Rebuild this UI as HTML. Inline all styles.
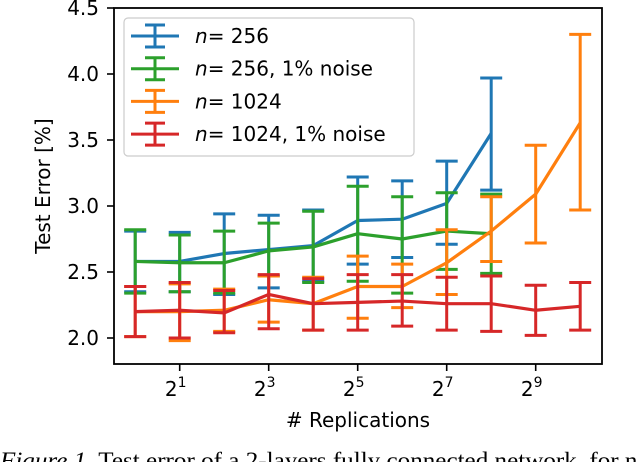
<!DOCTYPE html>
<html><head><meta charset="utf-8"><style>
body{margin:0;background:#fff}
svg{display:block;font-family:"DejaVu Sans","Liberation Sans",sans-serif}
</style></head><body>
<svg id="chart" width="638" height="462" viewBox="0 0 638 462" xmlns="http://www.w3.org/2000/svg">
<g id="marks"></g>
<rect x="114" y="8" width="488" height="356" fill="none" stroke="#000" stroke-width="1.8"/>
<g id="axes"></g>
<text x="358" y="427" font-size="20" text-anchor="middle"># Replications</text>
<text transform="translate(50,186) rotate(-90)" font-size="20" text-anchor="middle">Test Error [%]</text>
<g>
<rect x="124" y="18" width="290" height="138" rx="4" fill="#fff" fill-opacity="0.8" stroke="#ccc" stroke-width="1.2"/>
<g id="legend-items"></g>
</g>
<text x="0" y="468" font-family="Liberation Serif,serif" font-size="23" textLength="650" lengthAdjust="spacingAndGlyphs"><tspan font-style="italic">Figure 1.</tspan> Test error of a 2-layers fully connected network, for no</text>
</svg>
<script>
const xs = [0,1,2,3,4,5,6,7,8,9,10];
const blueMean = [2.58,2.58,2.64,2.67,2.70,2.89,2.90,3.02,3.55];
const blueLo = [2.35,2.35,2.33,2.38,2.43,2.56,2.61,2.71,3.12];
const blueHi = [2.81,2.80,2.94,2.93,2.97,3.22,3.19,3.34,3.97];
const greenMean = [2.58,2.57,2.57,2.66,2.69,2.79,2.75,2.81,2.79];
const greenLo = [2.34,2.35,2.34,2.47,2.42,2.43,2.34,2.52,2.49];
const greenHi = [2.82,2.78,2.81,2.87,2.96,3.15,3.07,3.10,3.09];
const orangeMean = [2.20,2.20,2.21,2.29,2.26,2.39,2.39,2.57,2.81,3.09,3.63];
const orangeLo = [2.01,1.98,2.05,2.12,2.06,2.15,2.23,2.33,2.58,2.72,2.97];
const orangeHi = [2.39,2.41,2.37,2.47,2.46,2.62,2.56,2.82,3.07,3.46,4.30];
const redMean = [2.20,2.21,2.19,2.33,2.26,2.27,2.28,2.26,2.26,2.21,2.24];
const redLo = [2.01,2.00,2.04,2.07,2.06,2.06,2.09,2.06,2.05,2.02,2.06];
const redHi = [2.39,2.42,2.36,2.48,2.45,2.48,2.48,2.46,2.47,2.40,2.42];
const yTicks = [2.0,2.5,3.0,3.5,4.0,4.5];
const xTicks = [1,3,5,7,9];
const seriesNames = ["blue-256","green-256-noise","orange-1024","red-1024-noise"];
const legendLabels = ["256","256, 1% noise","1024","1024, 1% noise"];

const NS="http://www.w3.org/2000/svg";
const X = v => 135.2 + v*44.5;
const Y = v => 338 - (v-2.0)*132;
function mk(tag, attrs, parent){const e=document.createElementNS(NS,tag);for(const k in attrs)e.setAttribute(k,attrs[k]);parent.appendChild(e);return e;}
const marks=document.getElementById('marks');
const series=[
 {c:"#1f77b4",m:blueMean,lo:blueLo,hi:blueHi},
 {c:"#2ca02c",m:greenMean,lo:greenLo,hi:greenHi},
 {c:"#ff7f0e",m:orangeMean,lo:orangeLo,hi:orangeHi},
 {c:"#d62728",m:redMean,lo:redLo,hi:redHi}];
series.forEach((s,i)=>{
 const g=mk('g',{},marks);
 
 
 s.m.forEach((v,j)=>{
  const x=X(xs[j]);
  const eb=mk('g',{stroke:s.c,'stroke-width':3,fill:'none'},g);
  
  
  mk('line',{x1:x,x2:x,y1:Y(s.lo[j]),y2:Y(s.hi[j])},eb);
  mk('line',{x1:x-11,x2:x+11,y1:Y(s.lo[j]),y2:Y(s.lo[j])},eb);
  mk('line',{x1:x-11,x2:x+11,y1:Y(s.hi[j]),y2:Y(s.hi[j])},eb);
 });
 const p=mk('polyline',{points:s.m.map((v,j)=>X(xs[j])+','+Y(v)).join(' '),fill:'none',stroke:s.c,'stroke-width':3.2,'stroke-linejoin':'round'},g);
 
 
});
const axes=document.getElementById('axes');
yTicks.forEach(t=>{
 const y=Y(t);
 mk('line',{x1:107,x2:114,y1:y,y2:y,stroke:'#000','stroke-width':1.6},axes);
 const tx=mk('text',{x:99,y:y+7,'font-size':20,'text-anchor':'end'},axes);
 
 
 tx.textContent=t.toFixed(1);
});
xTicks.forEach(t=>{
 const x=X(t);
 mk('line',{x1:x,x2:x,y1:364,y2:371,stroke:'#000','stroke-width':1.6},axes);
 const tx=mk('text',{x:x-4,y:396,'font-size':20,'text-anchor':'middle'},axes);
 
 
 tx.textContent='2';
 const sup=mk('tspan',{dy:-9,'font-size':14},tx);
 sup.textContent=String(t);
});
const li=document.getElementById('legend-items');
series.forEach((s,i)=>{
 const y=36+i*32.7;
 const g=mk('g',{stroke:s.c,'stroke-width':3},li);
 
 
 mk('line',{x1:131,x2:179,y1:y,y2:y},g);
 mk('line',{x1:155,x2:155,y1:y-11,y2:y+11},g);
 mk('line',{x1:145,x2:165,y1:y-11,y2:y-11},g);
 mk('line',{x1:145,x2:165,y1:y+11,y2:y+11},g);
 const t=mk('text',{x:195,y:y+7,'font-size':20,stroke:'none',fill:'#000'},g);
 const n=mk('tspan',{'font-style':'italic'},t); n.textContent='n';
 const r=mk('tspan',{},t); r.textContent='= '+legendLabels[i];
});
</script>
</body></html>
